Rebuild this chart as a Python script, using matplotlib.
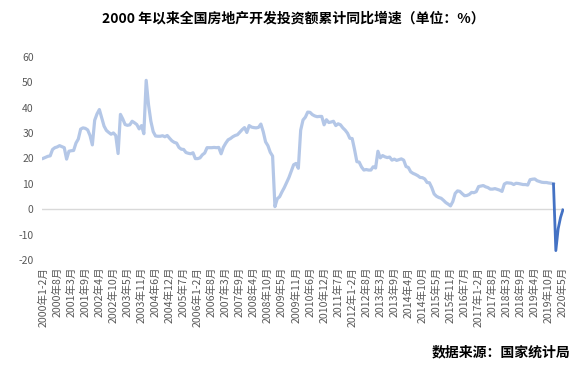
import matplotlib.pyplot as plt

plt.rcParams['font.family'] = ['Noto Sans CJK SC', 'DejaVu Sans']
plt.rcParams['axes.unicode_minus'] = False

# cumulative YoY growth (%), months: 1-2, 3, 4, ..., 12 per year
y2000 = [20.0, 20.4, 20.8, 21.0, 23.5, 24.2, 24.5, 25.0, 24.6, 24.2, 19.7]
y2001 = [22.8, 23.0, 23.1, 26.0, 27.6, 31.5, 32.0, 31.8, 31.2, 29.0, 25.3]
y2002 = [35.0, 37.5, 39.2, 36.0, 32.7, 31.0, 30.2, 29.5, 30.0, 29.0, 21.9]
y2003 = [37.3, 35.5, 33.3, 33.0, 33.2, 34.6, 34.0, 33.3, 31.6, 32.9, 29.7]
y2004 = [50.7, 41.1, 34.6, 30.5, 28.8, 28.7, 28.7, 28.9, 28.5, 29.0, 27.9]
y2005 = [26.9, 26.3, 26.0, 24.3, 23.6, 23.5, 22.3, 22.0, 21.8, 22.2, 19.9]
y2006 = [19.9, 20.2, 21.4, 22.1, 24.2, 24.2, 24.2, 24.3, 24.2, 24.3, 21.8]
y2007 = [24.4, 26.0, 27.3, 27.8, 28.5, 29.0, 29.3, 30.3, 31.3, 32.1, 30.2]
y2008 = [32.9, 32.3, 32.1, 32.0, 32.2, 33.5, 30.5, 26.5, 25.0, 22.4, 20.9]
y2009 = [1.0, 4.1, 4.9, 6.8, 8.5, 10.5, 12.5, 15.0, 17.5, 18.0, 16.1]
y2010 = [31.1, 35.1, 36.2, 38.2, 38.1, 37.2, 36.7, 36.4, 36.5, 36.5, 33.2]
y2011 = [35.2, 34.1, 34.3, 34.6, 32.9, 33.6, 33.2, 32.0, 31.1, 29.9, 27.9]
y2012 = [27.8, 23.5, 18.7, 18.5, 16.6, 15.4, 15.6, 15.4, 15.4, 16.7, 16.2]
y2013 = [22.8, 20.2, 21.1, 20.6, 20.3, 20.5, 19.3, 19.7, 19.2, 19.5, 19.8]
y2014 = [19.3, 16.8, 16.4, 14.7, 14.1, 13.7, 13.2, 12.5, 12.4, 11.9, 10.5]
y2015 = [10.4, 8.5, 6.0, 5.1, 4.6, 4.3, 3.5, 2.6, 2.0, 1.3]          # no Dec entry
y2016 = [3.0, 6.2, 7.2, 7.0, 6.1, 5.3, 5.4, 5.8, 6.6, 6.5, 6.9]
y2017 = [8.9, 9.1, 9.3, 8.8, 8.5, 7.9, 7.9, 8.1, 7.8, 7.5, 7.0]
y2018 = [9.9, 10.4, 10.3, 10.2, 9.7, 10.2, 10.1, 9.9, 9.7, 9.7, 9.5]
y2019 = [11.6, 11.8, 11.9, 11.2, 10.9, 10.6, 10.5, 10.5, 10.3, 10.2, 9.9]
y2020 = [-16.3, -7.7, -3.3, -0.3]

years = list(range(2000, 2021))
series = [y2000, y2001, y2002, y2003, y2004, y2005, y2006, y2007, y2008, y2009,
          y2010, y2011, y2012, y2013, y2014, y2015, y2016, y2017, y2018, y2019, y2020]
months = ['1-2月'] + [f'{m}月' for m in range(3, 13)]

values = []
labels = []
for yr, vals in zip(years, series):
    values += vals
    labels += [f'{yr}年{m}' for m in months[:len(vals)]]

x = list(range(len(values)))
split = len(values) - 5  # 2019年12月 onwards drawn dark

fig = plt.figure(figsize=(5.86, 3.77), dpi=100)
ax = fig.add_axes([0.0717, 0.3103, 0.8908, 0.5393])

ax.plot(x[:split + 1], values[:split + 1], color='#B4C7E7', linewidth=2.3,
        solid_joinstyle='round')
ax.plot(x[split:], values[split:], color='#4472C4', linewidth=2.0,
        solid_joinstyle='round')
ax.axhline(0, color='#D9D9D9', linewidth=1.0, zorder=0)

ax.set_xlim(-0.5, len(values) - 0.5)
ax.set_ylim(-20, 60)
ax.set_yticks(range(-20, 61, 10))
ticks = x[::6]
ax.set_xticks(ticks)
ax.set_xticklabels([labels[i] for i in ticks], rotation=90)
ax.tick_params(axis='x', length=0, pad=5, labelsize=7.6, colors='#595959')
ax.tick_params(axis='y', length=0, pad=6, labelsize=7.5, colors='#595959')
for s in ax.spines.values():
    s.set_visible(False)

fig.text(0.50, 0.952, '2000 年以来全国房地产开发投资额累计同比增速（单位：%）',
         ha='center', va='center', fontsize=10, fontweight='bold')
fig.text(0.973, 0.064, '数据来源：国家统计局', ha='right', va='center',
         fontsize=10, fontweight='bold')

fig.savefig('out.png', dpi=100)
